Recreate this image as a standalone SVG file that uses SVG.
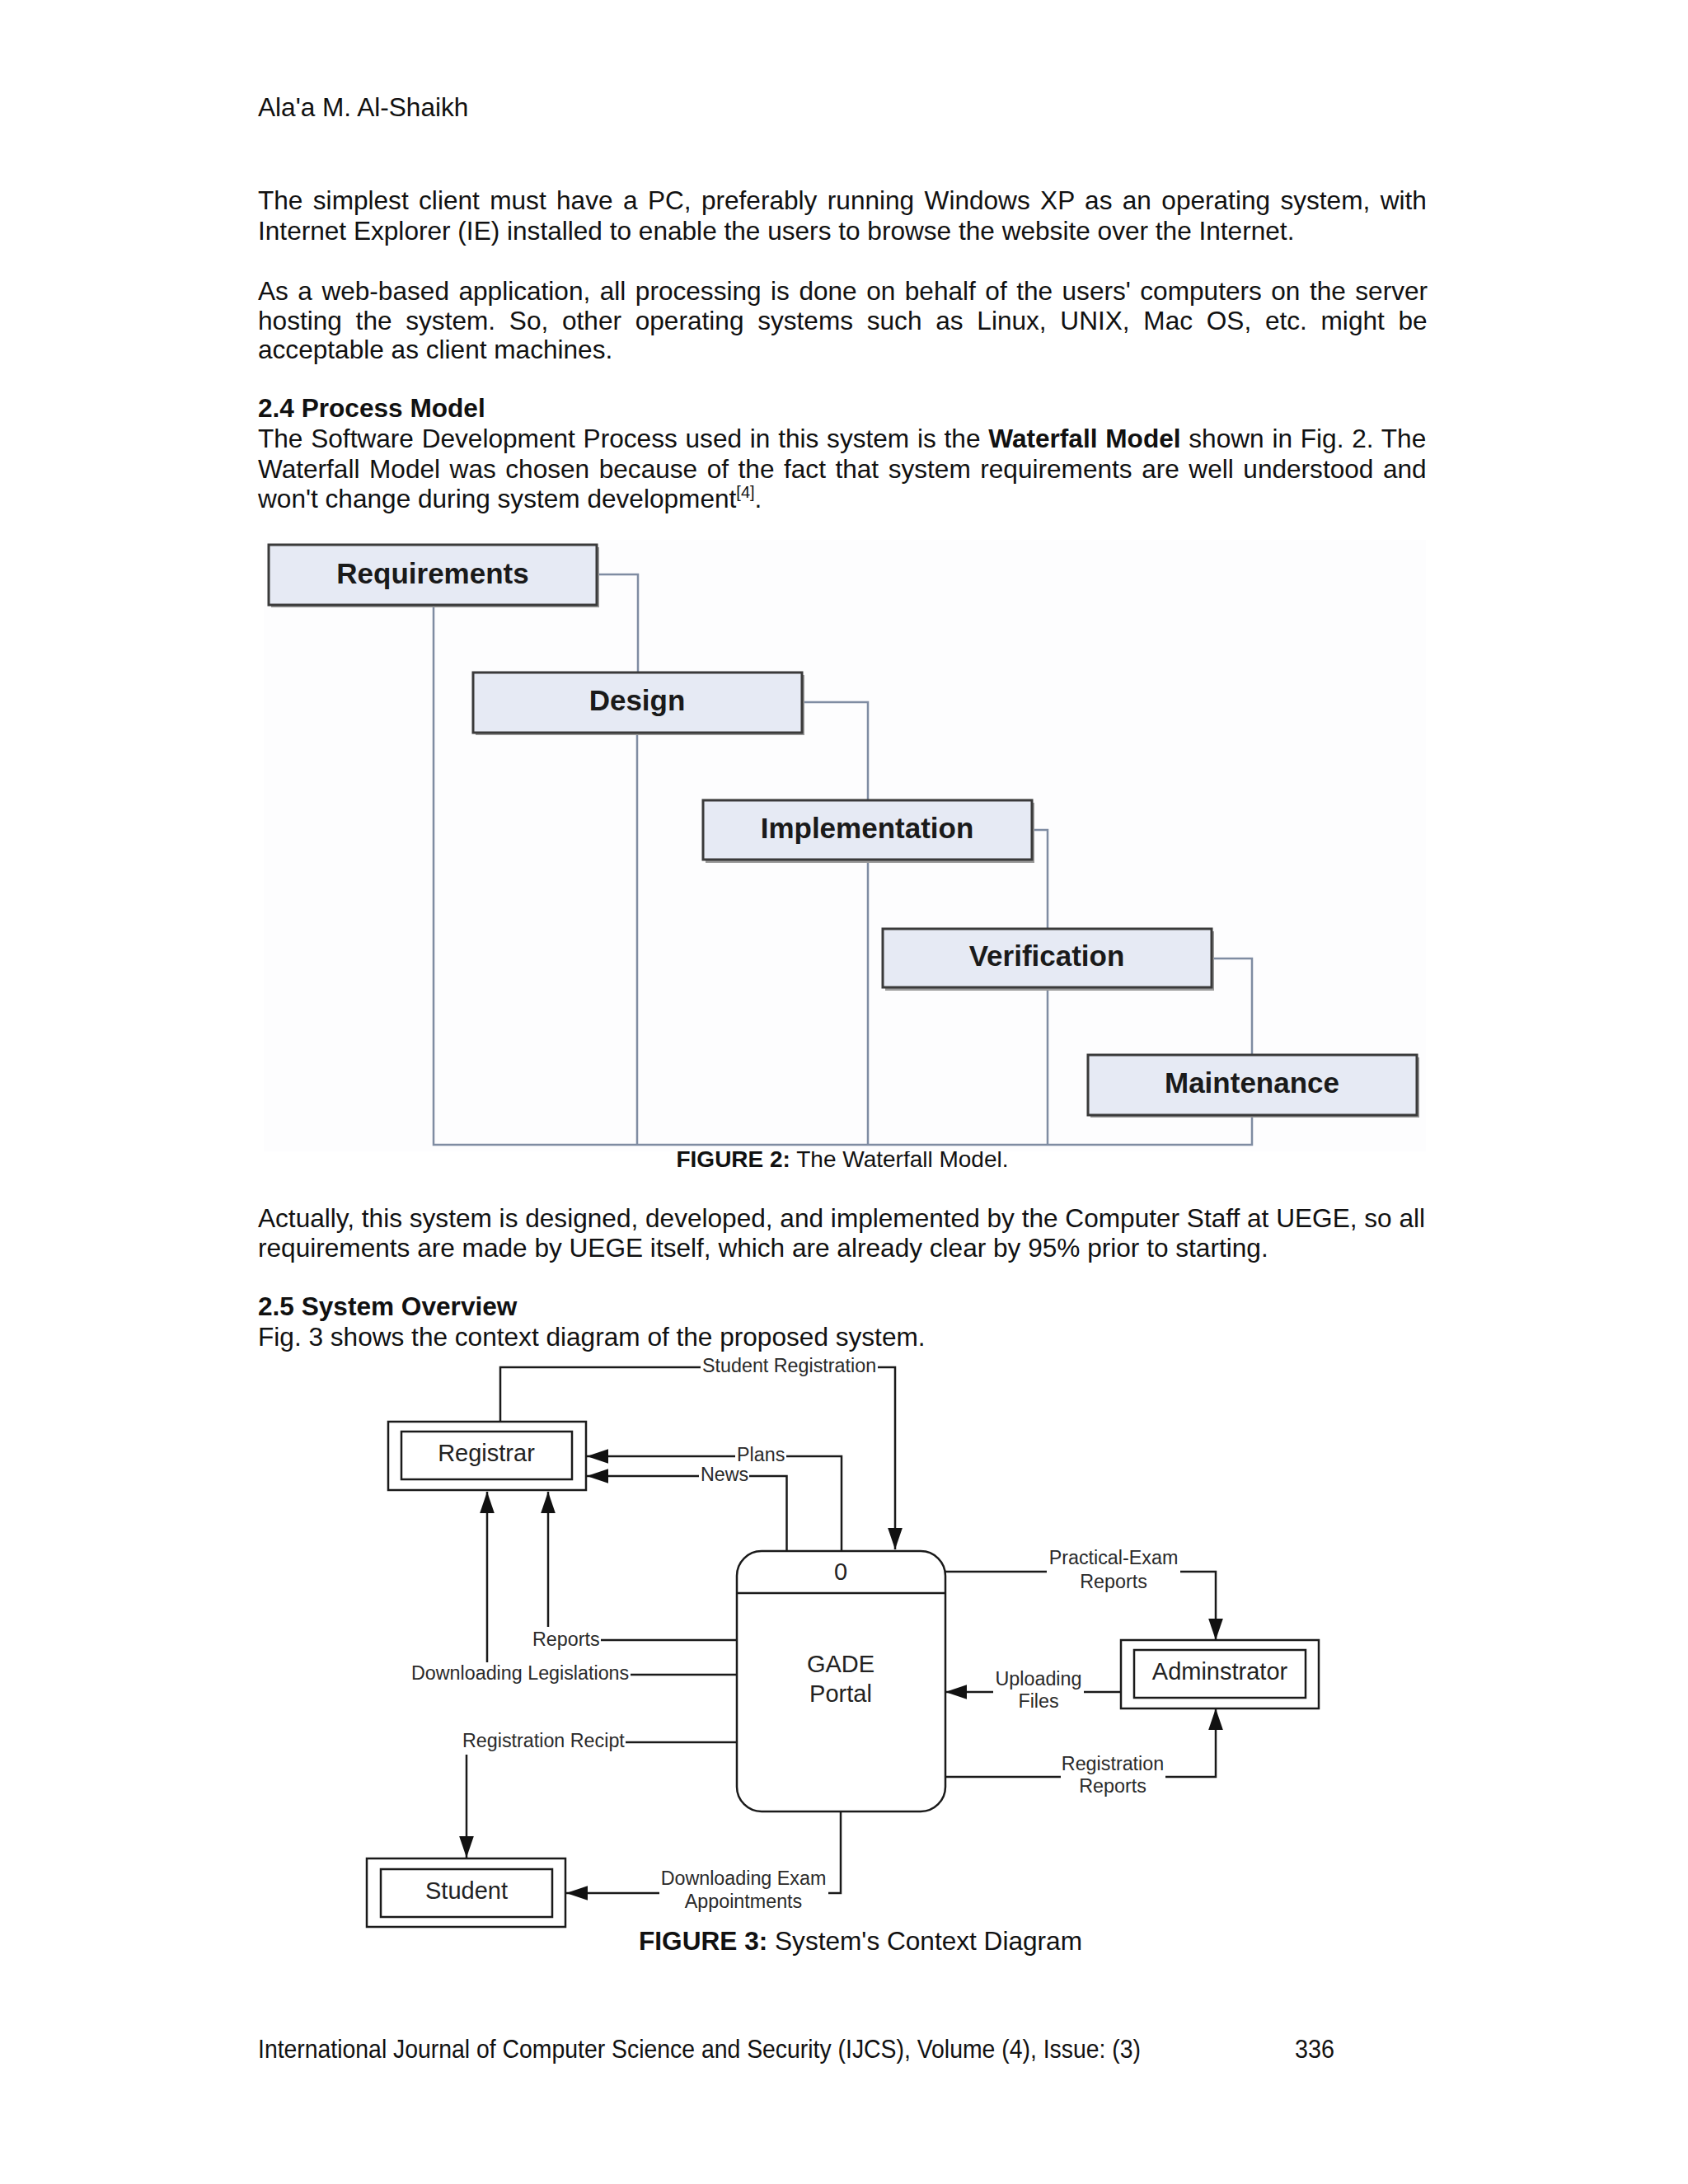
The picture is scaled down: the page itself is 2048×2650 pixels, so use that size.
<svg xmlns="http://www.w3.org/2000/svg" width="2048" height="2650" viewBox="0 0 2048 2650">
<defs>
<style>
.b{font-family:"Liberation Sans",Arial,sans-serif;font-size:31.6px;fill:#111}
.bb{font-weight:bold}
.cap{font-family:"Liberation Sans",Arial,sans-serif;fill:#111}
.wfbox{fill:#e6eaf4;stroke:#3a3a3a;stroke-width:3}
.wfsh{fill:#9a9a9a}
.wft{font-family:"Liberation Sans",Arial,sans-serif;font-size:35px;font-weight:bold;fill:#1a1a1a;text-anchor:middle}
.wfc{fill:none;stroke:#7f8ca2;stroke-width:2.5}
.dbox{fill:#fff;stroke:#1a1a1a;stroke-width:2.5}
.dt{font-family:"Liberation Sans",Arial,sans-serif;font-size:29px;fill:#222;text-anchor:middle}
.lb{font-family:"Liberation Sans",Arial,sans-serif;font-size:23.3px;fill:#2a2a2a}
.mid{text-anchor:middle}
.dc{fill:none;stroke:#1a1a1a;stroke-width:2.5}
</style>
<marker id="ah" markerUnits="userSpaceOnUse" markerWidth="26" markerHeight="18" refX="25" refY="8.5" orient="auto" viewBox="0 0 25 17">
<path d="M0,0 L25,8.5 L0,17 z" fill="#111"/>
</marker>
</defs>
<rect width="2048" height="2650" fill="#fff"/>

<!-- body text -->
<g id="text">
<text class="b" x="313" y="141">Ala'a M. Al-Shaikh</text>
<text class="b" x="313" y="254" word-spacing="3.6">The simplest client must have a PC, preferably running Windows XP as an operating system, with</text>
<text class="b" x="313" y="291">Internet Explorer (IE) installed to enable the users to browse the website over the Internet.</text>
<text class="b" x="313" y="364" word-spacing="2.7">As a web-based application, all processing is done on behalf of the users' computers on the server</text>
<text class="b" x="313" y="400" word-spacing="7.95">hosting the system. So, other operating systems such as Linux, UNIX, Mac OS, etc. might be</text>
<text class="b" x="313" y="435">acceptable as client machines.</text>
<text class="b bb" x="313" y="506">2.4 Process Model</text>
<text class="b" x="313" y="543" word-spacing="1.0">The Software Development Process used in this system is the <tspan class="bb">Waterfall Model</tspan> shown in Fig. 2. The</text>
<text class="b" x="313" y="580" word-spacing="2.75">Waterfall Model was chosen because of the fact that system requirements are well understood and</text>
<text class="b" x="313" y="616">won't change during system development<tspan font-size="20" dy="-12">[4]</tspan><tspan dy="12">.</tspan></text>
<text class="cap mid" x="1022" y="1416" font-size="28"><tspan font-weight="bold">FIGURE 2:</tspan> The Waterfall Model.</text>
<text class="b" x="313" y="1489">Actually, this system is designed, developed, and implemented by the Computer Staff at UEGE, so all</text>
<text class="b" x="313" y="1525">requirements are made by UEGE itself, which are already clear by 95% prior to starting.</text>
<text class="b bb" x="313" y="1596">2.5 System Overview</text>
<text class="b" x="313" y="1633">Fig. 3 shows the context diagram of the proposed system.</text>
<text class="cap mid" x="1044" y="2366" font-size="31.6"><tspan font-weight="bold">FIGURE 3:</tspan> System's Context Diagram</text>
<text class="b" x="313" y="2497" textLength="1071" lengthAdjust="spacingAndGlyphs">International Journal of Computer Science and Security (IJCS), Volume (4), Issue: (3)</text>
<text class="b" x="1571" y="2497" textLength="48" lengthAdjust="spacingAndGlyphs">336</text>
</g>

<!-- Figure 2: waterfall -->
<rect x="320" y="655" width="1410" height="742" fill="#fdfdfe"/>
<g id="wf-connectors">
<path class="wfc" d="M724,697 H774 V816"/>
<path class="wfc" d="M973,852 H1053 V971"/>
<path class="wfc" d="M1252,1007 H1271 V1127"/>
<path class="wfc" d="M1471,1163 H1519 V1280"/>
<path class="wfc" d="M526,734 V1389 H1519 V1353"/>
<path class="wfc" d="M773,889 V1389"/>
<path class="wfc" d="M1053,1043 V1389"/>
<path class="wfc" d="M1271,1198 V1389"/>
</g>
<g id="requirements">
<rect class="wfsh" x="329" y="664" width="398" height="73"/>
<rect class="wfbox" x="326" y="661" width="398" height="73"/>
<text class="wft" x="525" y="708">Requirements</text>
</g>
<g id="design">
<rect class="wfsh" x="577" y="819" width="399" height="73"/>
<rect class="wfbox" x="574" y="816" width="399" height="73"/>
<text class="wft" x="773" y="862">Design</text>
</g>
<g id="implementation">
<rect class="wfsh" x="856" y="974" width="399" height="73"/>
<rect class="wfbox" x="853" y="971" width="399" height="72"/>
<text class="wft" x="1052" y="1017">Implementation</text>
</g>
<g id="verification">
<rect class="wfsh" x="1074" y="1130" width="399" height="72"/>
<rect class="wfbox" x="1071" y="1127" width="399" height="71"/>
<text class="wft" x="1270" y="1172">Verification</text>
</g>
<g id="maintenance">
<rect class="wfsh" x="1323" y="1283" width="399" height="73"/>
<rect class="wfbox" x="1320" y="1280" width="399" height="73"/>
<text class="wft" x="1519" y="1326">Maintenance</text>
</g>

<!-- Figure 3: context diagram -->
<g id="dfd-connectors">
<path class="dc" d="M607,1725 V1659 H850"/>
<path class="dc" d="M1065,1659 H1086 V1880" marker-end="url(#ah)"/>
<path class="dc" d="M1021,1882 V1767 H954"/>
<path class="dc" d="M892,1767 H712" marker-end="url(#ah)"/>
<path class="dc" d="M954.5,1882 V1791 H909"/>
<path class="dc" d="M848,1791 H712" marker-end="url(#ah)"/>
<path class="dc" d="M894,1990 H729"/>
<path class="dc" d="M665,1974 V1810" marker-end="url(#ah)"/>
<path class="dc" d="M894,2032 H765"/>
<path class="dc" d="M591,2017 V1810" marker-end="url(#ah)"/>
<path class="dc" d="M894,2114 H759"/>
<path class="dc" d="M566,2129 V2254" marker-end="url(#ah)"/>
<path class="dc" d="M1020,2198 V2297 H1005"/>
<path class="dc" d="M800,2297 H687" marker-end="url(#ah)"/>
<path class="dc" d="M1147,1907 H1270"/>
<path class="dc" d="M1432,1907 H1475 V1990" marker-end="url(#ah)"/>
<path class="dc" d="M1376,2053 H1315"/>
<path class="dc" d="M1205,2053 H1147" marker-end="url(#ah)"/>
<path class="dc" d="M1147,2156 H1287"/>
<path class="dc" d="M1414,2156 H1475 V2073" marker-end="url(#ah)"/>
<text class="lb" x="852" y="1665">Student Registration</text>
<text class="lb" x="894" y="1773">Plans</text>
<text class="lb" x="850" y="1797">News</text>
<text class="lb" x="646" y="1997">Reports</text>
<text class="lb" x="499" y="2038">Downloading Legislations</text>
<text class="lb" x="561" y="2120">Registration Recipt</text>
<text class="lb mid" x="902" y="2287">Downloading Exam</text>
<text class="lb mid" x="902" y="2315">Appointments</text>
<text class="lb mid" x="1351" y="1898">Practical-Exam</text>
<text class="lb mid" x="1351" y="1927">Reports</text>
<text class="lb mid" x="1260" y="2045">Uploading</text>
<text class="lb mid" x="1260" y="2072">Files</text>
<text class="lb mid" x="1350" y="2148">Registration</text>
<text class="lb mid" x="1350" y="2175">Reports</text>
</g>
<g id="registrar">
<rect class="dbox" x="471" y="1725" width="240" height="83"/>
<rect class="dbox" x="487" y="1737" width="207" height="58"/>
<text class="dt" x="590" y="1773">Registrar</text>
</g>
<g id="portal">
<rect class="dbox" x="894" y="1882" width="253" height="316" rx="30" ry="30"/>
<line class="dc" x1="894" y1="1933" x2="1147" y2="1933"/>
<text class="dt" x="1020" y="1917">0</text>
<text class="dt" x="1020" y="2029">GADE</text>
<text class="dt" x="1020" y="2065">Portal</text>
</g>
<g id="administrator">
<rect class="dbox" x="1360" y="1990" width="240" height="83"/>
<rect class="dbox" x="1376" y="2002" width="208" height="58"/>
<text class="dt" x="1480" y="2038">Adminstrator</text>
</g>
<g id="student">
<rect class="dbox" x="445" y="2255" width="241" height="83"/>
<rect class="dbox" x="462" y="2268" width="208" height="58"/>
<text class="dt" x="566" y="2304">Student</text>
</g>
</svg>
